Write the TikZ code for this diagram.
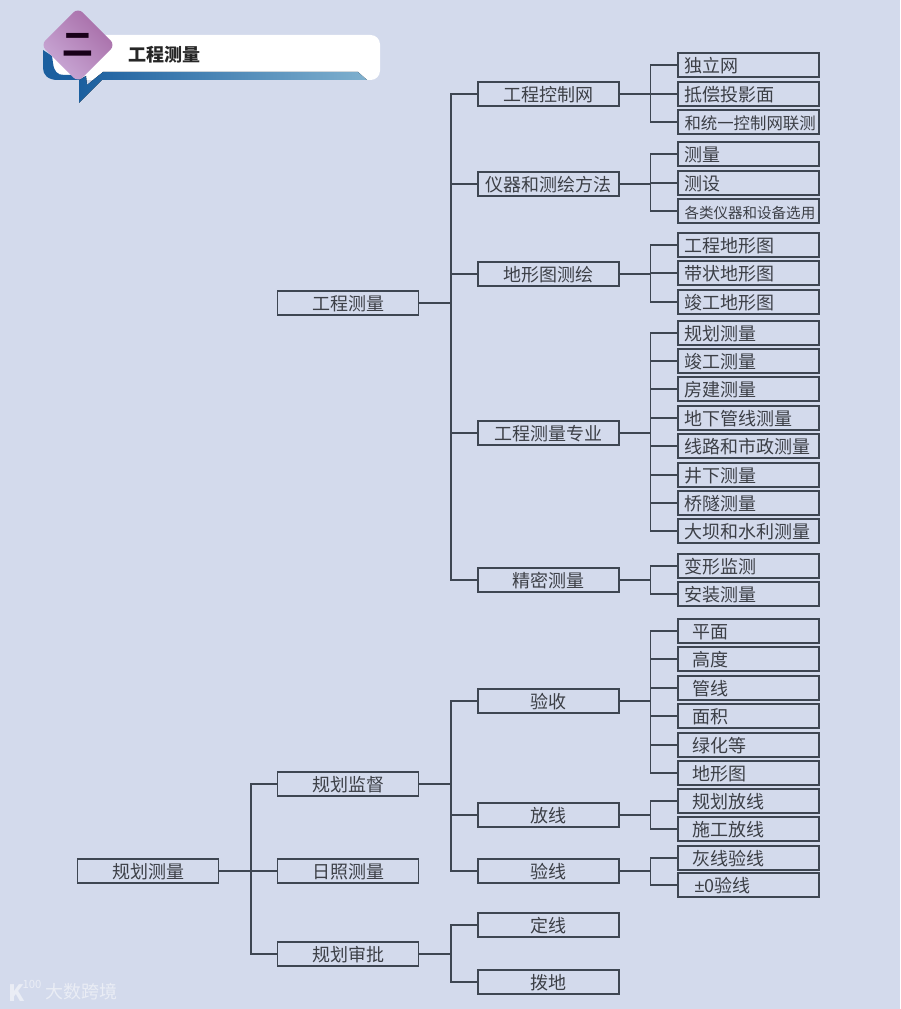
\documentclass[tikz,border=0pt]{standalone}
\usepackage{fontspec}
\setmainfont{Noto Sans CJK SC}
\newfontface\pmfont{Liberation Sans}
\definecolor{paper}{HTML}{D3DAEC}
\definecolor{ink}{HTML}{3E4652}
\definecolor{word}{HTML}{3C3F46}
\definecolor{bandA}{HTML}{1B5F9F}
\definecolor{bandB}{HTML}{7FB0CE}
\definecolor{badgeA}{HTML}{A66BA6}
\definecolor{badgeB}{HTML}{CBABD8}
\definecolor{faint}{HTML}{EAEDF5}
\newcommand{\tight}{\fontsize{12.3pt}{14pt}\selectfont}
\newcommand{\tighter}{\fontsize{10.9pt}{14pt}\selectfont}
\tikzset{
  box/.style={draw=ink,line width=1.1pt,text=word,minimum height=18pt,inner ysep=0pt,
    text height=12pt,text depth=.8pt,font=\fontsize{13.5pt}{14pt}\selectfont},
  midbox/.style={box,minimum width=105.5pt,inner xsep=0pt},
  leaf/.style={box,text width=96pt,inner xsep=4.9pt,align=left},
  leafin/.style={box,text width=84pt,inner xsep=10.9pt,align=left},
  wire/.style={draw=ink,line width=1.1pt}
}
\begin{document}
\begin{tikzpicture}[x=.75pt,y=-.75pt]
    \useasboundingbox[fill=paper] (0,0) rectangle (900,1009);

    % header
    \fill[white,rounded corners=7pt] (52,35) rectangle (380,80);
    \fill[bandA] (43,50) -- (52,56) -- (53,63) .. controls (54,71) and (57,75) .. (64,75) -- (74,75) -- (80,80) -- (58,80) .. controls (48,80) and (43,75) .. (43,68) -- cycle;
    \fill[left color=bandA,right color=bandB] (79,80) -- (86,76) -- (87,85) -- (103,72) -- (358,72) -- (367,80) -- (102,80) -- (79,103) -- cycle;
    \node[rotate=45,minimum size=39.5pt,inner sep=0pt,rounded corners=5pt,top color=badgeA,bottom color=badgeB,shading angle=-45] (badge) at (78,45) {};
    \node[text=black!80!violet,font=\fontsize{23pt}{25pt}\bfseries\selectfont] (badgetxt) at (78,45) {二};
    \node[anchor=west,inner sep=0pt,text=black!85,font=\fontsize{13.5pt}{15pt}\bfseries\selectfont] (title) at (128,55) {工程测量};

    % root and second column
    \node[midbox] (root) at (148,871) {规划测量};
    \foreach \n/\y/\l in {survey/303/工程测量,watch/784/规划监督,sun/871/日照测量,audit/954/规划审批}
      \node[midbox] (\n) at (348,\y) {\l};

    % third column
    \foreach \n/\y/\l in {ctrl/94/工程控制网,tool/184/仪器和测绘方法,map/274/地形图测绘,major/433/工程测量专业,
      fine/580/精密测量,accept/701/验收,lay/815/放线,check/871/验线,fix/925/定线,allot/982/拨地}
      \node[midbox] (\n) at (548.5,\y) {\l};

    % leaves
    \foreach \n/\y/\l in {a1/65/独立网,a2/94/抵偿投影面,a3/122/{\tight 和统一控制网联测},
      b1/154/测量,b2/183/测设,b3/211/{\tighter 各类仪器和设备选用},
      c1/245/工程地形图,c2/273/带状地形图,c3/302/竣工地形图,
      d1/333/规划测量,d2/361/竣工测量,d3/389/房建测量,d4/418/地下管线测量,
      d5/446/线路和市政测量,d6/475/井下测量,d7/503/桥隧测量,d8/531/大坝和水利测量,
      e1/566/变形监测,e2/594/安装测量}
      \node[leaf] (\n) at (748.5,\y) {\l};
    \foreach \n/\y/\l in {f1/631/平面,f2/659/高度,f3/688/管线,f4/716/面积,f5/745/绿化等,f6/773/地形图,
      g1/801/规划放线,g2/829/施工放线,h1/858/灰线验线,h2/885/{\hspace*{1.5pt}{\pmfont ±}0验线}}
      \node[leafin] (\n) at (748.5,\y) {\l};

    % connectors
    \foreach \p/\c in {root/watch,root/sun,root/audit}
      \draw[wire] (\p.east) -- ++(32,0) |- (\c.west);
    \foreach \p/\c in {survey/ctrl,survey/tool,survey/map,survey/major,survey/fine,
      watch/accept,watch/lay,watch/check,audit/fix,audit/allot}
      \draw[wire] (\p.east) -- ++(32,0) |- (\c.west);
    \foreach \p/\c in {ctrl/a1,ctrl/a2,ctrl/a3,tool/b1,tool/b2,tool/b3,map/c1,map/c2,map/c3,
      major/d1,major/d2,major/d3,major/d4,major/d5,major/d6,major/d7,major/d8,fine/e1,fine/e2,
      accept/f1,accept/f2,accept/f3,accept/f4,accept/f5,accept/f6,
      lay/g1,lay/g2,check/h1,check/h2}
      \draw[wire] (\p.east) -- ++(31,0) |- (\c.west);

    % watermark
    \node[text=faint,inner sep=0pt,font=\bfseries\fontsize{17pt}{18pt}\selectfont] (mark) at (17,993) {K};
    \node[text=faint,inner sep=0pt,font=\fontsize{8.5pt}{9pt}\selectfont] (hundred) at (32,984) {100};
    \node[anchor=west,text=faint,inner sep=0pt,font=\fontsize{13.5pt}{15pt}\selectfont] (brand) at (45,992) {大数跨境};
\end{tikzpicture}
\end{document}
